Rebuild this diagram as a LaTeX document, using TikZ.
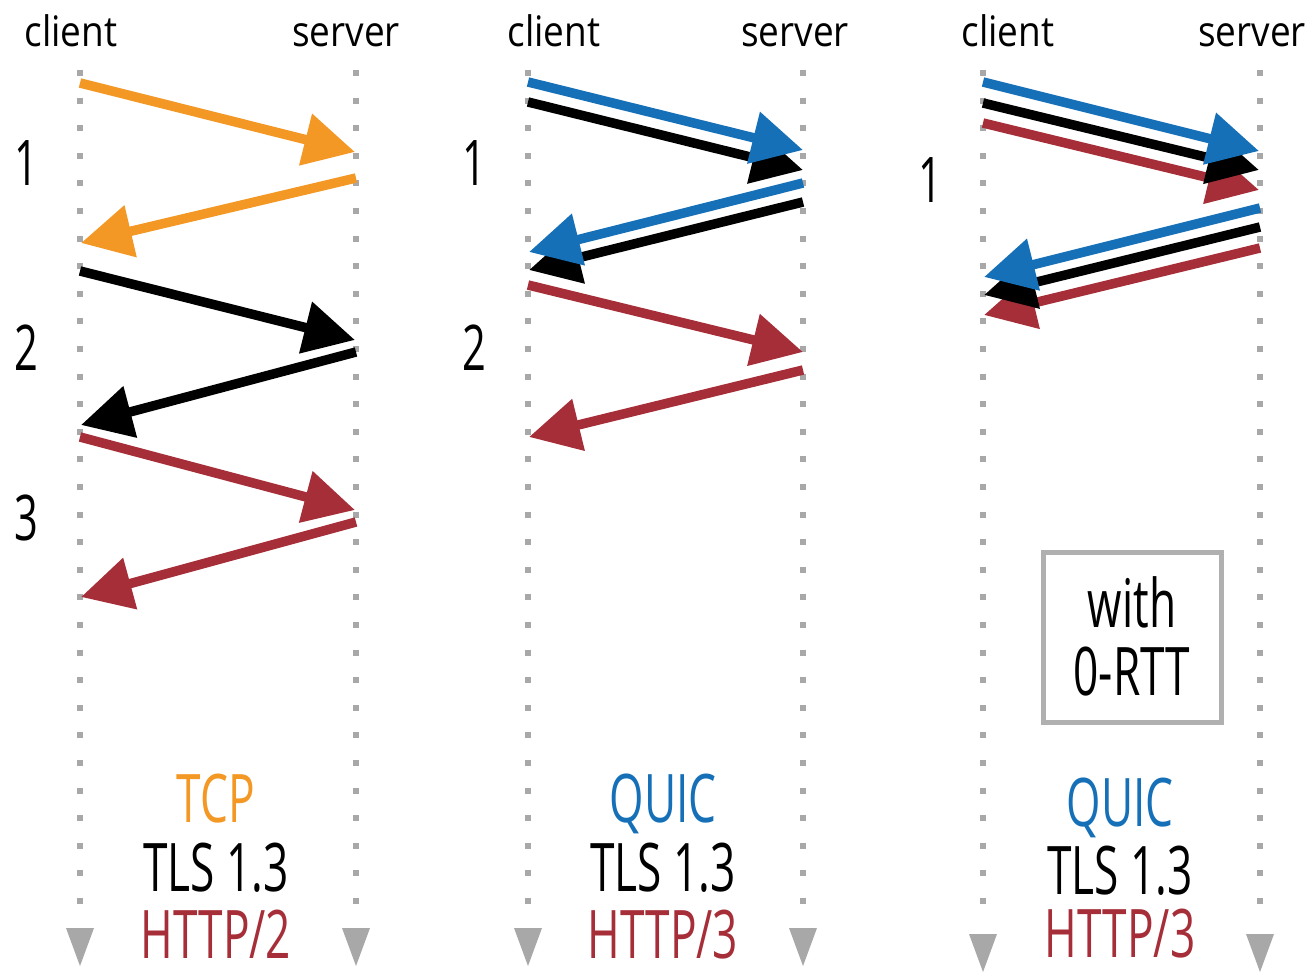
\documentclass[tikz,border=0pt]{standalone}
\usepackage{fontspec}
\setmainfont{Open Sans}[FakeStretch=0.66]
\newfontfamily\headfont{Open Sans}[FakeStretch=0.88]
\usetikzlibrary{arrows.meta}

\definecolor{tcporange}{RGB}{243,152,36}
\definecolor{quicblue}{RGB}{22,112,184}
\definecolor{httpred}{RGB}{166,46,56}
\definecolor{dotgray}{RGB}{168,168,168}
\definecolor{boxgray}{RGB}{176,176,176}

\begin{document}
\begin{tikzpicture}[x=1pt,y=-1pt,
  msg/.style={line width=9.5pt, -{Triangle[length=51pt,width=51pt]}},
  timeline/.style={line width=6pt, draw=dotgray, dash pattern=on 6pt off 21.6pt},
  endtip/.style={fill=dotgray},
  head/.style={font=\headfont\fontsize{42}{44}\selectfont, inner sep=0pt, anchor=base},
  roundno/.style={font=\fontsize{63}{66}\selectfont, inner sep=0pt},
  proto/.style={font=\fontsize{67}{70}\selectfont, inner sep=0pt, anchor=base, text depth=0pt},
]
\useasboundingbox (0,0) rectangle (1308,973);
\fill[white] (0,0) rectangle (1308,973);

% ---------- headers ----------
\node[head] (h1c) at (71,47) {client};
\node[head] (h1s) at (346,47) {server};
\node[head] (h2c) at (554,47) {client};
\node[head] (h2s) at (795,47) {server};
\node[head] (h3c) at (1008,47) {client};
\node[head] (h3s) at (1252,47) {server};

% ---------- timelines ----------
\foreach \n/\x/\b in {c1/80/906, s1/356/906, c2/528/906, s2/803/906, c3/983/912, s3/1260/912}{
  \coordinate (\n top) at (\x,70);
  \coordinate (\n bot) at (\x,\b);
  \draw[timeline] (\n top) -- (\n bot);
}
\foreach \x/\t in {80/928, 356/928, 528/928, 803/928, 983/934, 1260/934}{
  \fill[endtip] (\x-14,\t) -- (\x+14,\t) -- (\x,\t+38) -- cycle;
}

% ---------- round-trip numbers ----------
\node[roundno] (n11) at (26,163) {1};
\node[roundno] (n12) at (26,348) {2};
\node[roundno] (n13) at (26,518) {3};
\node[roundno] (n21) at (474,163) {1};
\node[roundno] (n22) at (474,348) {2};
\node[roundno] (n31) at (930,180) {1};

% ---------- TCP + TLS 1.3 + HTTP/2 ----------
\coordinate (a1s) at (80,83);   \coordinate (a1e) at (355,152);
\coordinate (a2s) at (356,178); \coordinate (a2e) at (81,243);
\coordinate (a3s) at (80,271);  \coordinate (a3e) at (355,340);
\coordinate (a4s) at (356,352); \coordinate (a4e) at (81,425);
\coordinate (a5s) at (80,437);  \coordinate (a5e) at (355,510);
\coordinate (a6s) at (356,522); \coordinate (a6e) at (81,597);
\draw[msg, tcporange] (a1s) -- (a1e);
\draw[msg, tcporange] (a2s) -- (a2e);
\draw[msg, black] (a3s) -- (a3e);
\draw[msg, black] (a4s) -- (a4e);
\draw[msg, httpred] (a5s) -- (a5e);
\draw[msg, httpred] (a6s) -- (a6e);

% ---------- QUIC + TLS 1.3 + HTTP/3 ----------
\coordinate (b1s) at (528,102); \coordinate (b1e) at (803,170);
\coordinate (b2s) at (528,82);  \coordinate (b2e) at (803,150);
\coordinate (b3s) at (803,202); \coordinate (b3e) at (529,270);
\coordinate (b4s) at (803,183); \coordinate (b4e) at (529,252);
\coordinate (b5s) at (528,285); \coordinate (b5e) at (803,352);
\coordinate (b6s) at (803,370); \coordinate (b6e) at (529,437);
\draw[msg, black] (b1s) -- (b1e);
\draw[msg, quicblue] (b2s) -- (b2e);
\draw[msg, black] (b3s) -- (b3e);
\draw[msg, quicblue] (b4s) -- (b4e);
\draw[msg, httpred] (b5s) -- (b5e);
\draw[msg, httpred] (b6s) -- (b6e);

% ---------- QUIC with 0-RTT ----------
\coordinate (c1s) at (983,123);  \coordinate (c1e) at (1259,190);
\coordinate (c2s) at (983,103);  \coordinate (c2e) at (1259,170);
\coordinate (c3s) at (983,82);   \coordinate (c3e) at (1259,151);
\coordinate (c4s) at (1260,248); \coordinate (c4e) at (984,315);
\coordinate (c5s) at (1260,227); \coordinate (c5e) at (984,295);
\coordinate (c6s) at (1260,208); \coordinate (c6e) at (984,277);
\draw[msg, httpred] (c1s) -- (c1e);
\draw[msg, black] (c2s) -- (c2e);
\draw[msg, quicblue] (c3s) -- (c3e);
\draw[msg, httpred] (c4s) -- (c4e);
\draw[msg, black] (c5s) -- (c5e);
\draw[msg, quicblue] (c6s) -- (c6e);

% ---------- 0-RTT box ----------
\draw[boxgray, line width=5pt] (1043,552) rectangle (1221,722);
\node[proto] (w1) at (1132,627) {with};
\node[proto] (w2) at (1132,695) {0-RTT};

% ---------- protocol stacks ----------
\node[proto, text=tcporange] (p11) at (216,822) {TCP};
\node[proto] (p12) at (216,891) {TLS 1.3};
\node[proto, text=httpred] (p13) at (216,958) {HTTP/2};
\node[proto, text=quicblue] (p21) at (663,822) {QUIC};
\node[proto] (p22) at (663,891) {TLS 1.3};
\node[proto, text=httpred] (p23) at (663,958) {HTTP/3};
\node[proto, text=quicblue] (p31) at (1120,826) {QUIC};
\node[proto] (p32) at (1120,894) {TLS 1.3};
\node[proto, text=httpred] (p33) at (1120,957) {HTTP/3};
\end{tikzpicture}
\end{document}
